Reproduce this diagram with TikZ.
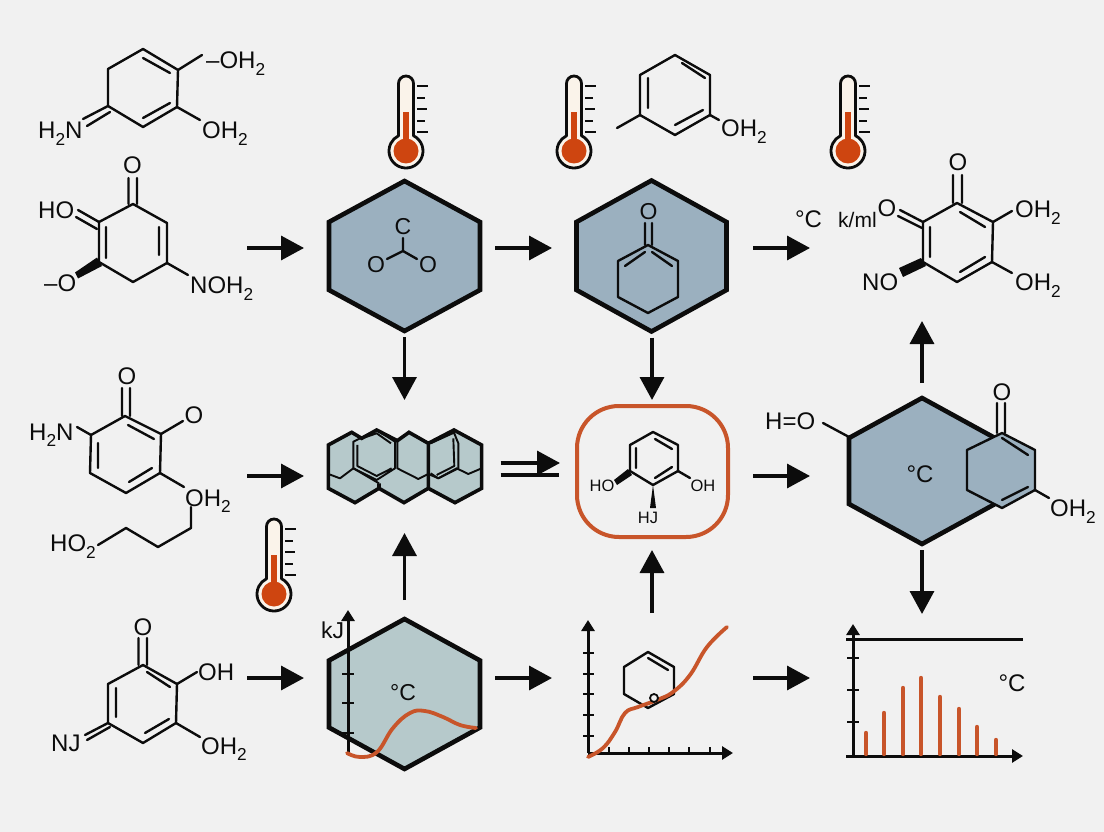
\documentclass[tikz,border=0pt]{standalone}
\usepackage{fontspec}
\usepackage{graphicx}
\setmainfont{Liberation Sans}
\usetikzlibrary{arrows.meta,calc}
\definecolor{paper}{HTML}{F1F1F1}
\definecolor{ink}{HTML}{0C0C0C}
\definecolor{hexblue}{HTML}{9BB0BF}
\definecolor{hexpale}{HTML}{B6C9CB}
\definecolor{rust}{HTML}{C8552A}
\definecolor{mercury}{HTML}{CE4510}
\definecolor{cream}{HTML}{FAF3EA}
\newcommand{\subtwo}[1]{\raisebox{-.28em}{\scalebox{.72}{#1}}}
\tikzset{
  x=1pt,y=-1pt,
  bond/.style={draw=ink,line width=2.4pt,line cap=round,line join=round},
  lbl/.style={inner sep=0pt,text=ink,anchor=base west,font=\fontsize{24}{24}\selectfont},
  lblc/.style={lbl,anchor=base},
  lbls/.style={lblc,font=\fontsize{16.5}{16.5}\selectfont},
  arr/.style={draw=ink,line width=3.4pt,-{Triangle[length=23pt,width=24pt]}},
  axis/.style={draw=ink,line width=3pt,-{Triangle[length=11pt,width=13pt]}},
  tick/.style={draw=ink,line width=2.6pt},
  hexline/.style={draw=ink,line width=4.6pt,line join=miter},
  ghost/.style={inner sep=0pt,outer sep=0pt,draw=none,fill=none},
  curve/.style={draw=rust,line width=3.8pt,line cap=round,line join=round},
  barline/.style={draw=rust,line width=4.4pt,line cap=round},
  thin cluster/.style={draw=ink,line width=1.9pt,line join=round},
  thick cluster/.style={draw=ink,line width=3.6pt,line join=miter},
}
% name, x, y, rx, ry, half side, fill
\newcommand{\hexnode}[7]{%
  \node[ghost,minimum width=#4*2pt,minimum height=#5*2pt] (#1) at (#2,#3) {};
  \draw[hexline,fill=#7] ($(#2,#3)+(0,-#5)$) -- ($(#2,#3)+(#4,-#6)$) -- ($(#2,#3)+(#4,#6)$) --
    ($(#2,#3)+(0,#5)$) -- ($(#2,#3)+(-#4,#6)$) -- ($(#2,#3)+(-#4,-#6)$) -- cycle;
}
\newcommand{\thermo}[3]{%
  \begin{scope}[shift={(#2,#3)}]
    \draw[draw=ink,line width=2.8pt,fill=cream,line join=round]
      (-7.5,-67.5) arc[start angle=180,end angle=360,radius=7.5] -- (7.5,-15.25)
      arc[start angle=-63.8,end angle=243.8,radius=17] -- cycle;
    \fill[mercury] (-3.2,-39) rectangle (3.2,-8);
    \fill[mercury] (0,0) circle[radius=12.5];
    \draw[tick] (11,-65) -- (22,-65) (11,-53) -- (19,-53) (11,-42) -- (21,-42) (11,-30) -- (19,-30) (11,-19) -- (22,-19);
    \node[ghost] (#1) at (0,-30) {};
  \end{scope}
}
\begin{document}
\begin{tikzpicture}
\useasboundingbox (0,0) rectangle (1104,832);
\fill[paper] (0,0) rectangle (1104,832);

% ---- named hexagons and boxes
\hexnode{hexA}{404.5}{256}{75.5}{75}{34}{hexblue}
\hexnode{hexB}{651.5}{256}{75}{75.5}{34}{hexblue}
\hexnode{hexC}{922}{471}{73}{73}{33}{hexblue}
\hexnode{hexD}{404.5}{694}{75.5}{75}{33.5}{hexpale}

% ---- thermometers
\thermo{thA}{406}{151}
\thermo{thB}{574}{151}
\thermo{thC}{848}{151}
\thermo{thD}{274}{594}

% ---- molecule 1
\draw[bond] (143,49) -- (178,70) -- (177,107) -- (143,127) -- (108,106) -- (108,69) -- cycle;
\draw[bond] (143,58) -- (170,73) (143,118) -- (170,103) (178,70) -- (202,55) (177,107) -- (200,120)
  (108,106) -- (83,119) (110,112) -- (87,126);
\node[lbl] (m1a) at (206,69) {–OH\subtwo{2}};
\node[lbl] (m1b) at (202,139) {OH\subtwo{2}};
\node[lbl] (m1c) at (38,139) {H\subtwo{2}N};

% ---- molecule 2
\draw[bond] (133,204) -- (167,223) -- (167,263) -- (133,282) -- (99,262) -- (99,222) -- cycle;
\draw[bond] (159,227) -- (159,255) (106,227) -- (106,258) (128.5,204) -- (128.5,178) (137,204) -- (137,178)
  (99,222) -- (78,210) (97,229) -- (76,217) (167,263) -- (188,275);
\fill[ink] (75,272.5) -- (78,278.5) -- (102,266) -- (97,257.5) -- cycle;
\node[lblc] (m2o) at (132.5,173.5) {O};
\node[lbl] (m2a) at (38,218.5) {HO};
\node[lbl] (m2b) at (44,291.5) {–O};
\node[lbl] (m2c) at (190,293.5) {NOH\subtwo{2}};

% ---- molecule 3
\draw[bond] (125,416) -- (161,434) -- (160,473) -- (126,493) -- (90,473) -- (91,435) -- cycle;
\draw[bond] (128,425) -- (154,439) (152,468) -- (129,482) (98,443) -- (98,468)
  (122,416) -- (122,388) (130,416) -- (130,388) (161,434) -- (183,421)
  (91,435) -- (77,427) (160,473) -- (184,487)
  (191,507) -- (191,528) -- (158,547) -- (126,528) -- (98,545);
\node[lblc] (m3o) at (127,384) {O};
\node[lblc] (m3p) at (194,423) {O};
\node[lbl] (m3a) at (29,440) {H\subtwo{2}N};
\node[lbl] (m3b) at (185,506) {OH\subtwo{2}};
\node[lbl] (m3c) at (50,551.5) {HO\subtwo{2}};

% ---- molecule 4
\draw[bond] (143,665) -- (177,684) -- (176,723) -- (143,743) -- (108,723) -- (108,684) -- cycle;
\draw[bond] (147,672) -- (170,687) (169,719) -- (145,733) (116,688) -- (116,717)
  (138.5,665) -- (138.5,638) (147,665) -- (147,638) (177,684) -- (197,672) (176,723) -- (200,737)
  (108,723) -- (85,735) (110,727) -- (87,740);
\node[lblc] (m4o) at (143,635.5) {O};
\node[lbl] (m4a) at (198,680.5) {OH};
\node[lbl] (m4b) at (201,754) {OH\subtwo{2}};
\node[lbl] (m4c) at (51,751.5) {NJ};

% ---- molecule 5
\draw[bond] (675,55) -- (710,75) -- (710,115) -- (675,135) -- (640,115) -- (640,75) -- cycle;
\draw[bond] (648,78) -- (648,108) (675,125) -- (703,110) (682,63) -- (705,78) (640,115) -- (617,128) (710,115) -- (719,120);
\node[lbl] (m5a) at (721,136.5) {OH\subtwo{2}};

% ---- molecule 6
\draw[bond] (957,203) -- (993,222) -- (992,262) -- (957,282) -- (923,262) -- (923,222) -- cycle;
\draw[bond] (960,212) -- (985,227) (985,257) -- (960,272) (930,227) -- (930,257)
  (953,203) -- (953,175) (962,203) -- (962,175)
  (923,222) -- (900,210) (922,228) -- (898,216)
  (993,222) -- (1012,211) (992,262) -- (1012,273);
\fill[ink] (899,268) -- (903,277) -- (926,266) -- (921,258) -- cycle;
\node[lblc] (m6o) at (958,170.5) {O};
\node[lblc] (m6p) at (887,216.5) {O};
\node[lbl] (m6a) at (862,290.5) {NO};
\node[lbl] (m6b) at (1015,217.5) {OH\subtwo{2}};
\node[lbl] (m6c) at (1015,290.5) {OH\subtwo{2}};
\node[lblc] (m6d) at (808.5,228) {°C};
\node[lbl,font=\fontsize{21}{21}\selectfont] (m6e) at (838,228) {k/ml};

% ---- contents of hexagon A
\draw[bond] (403,238) -- (403,251) -- (387,259) (403,251) -- (417,259);
\node[lblc,font=\fontsize{23}{23}\selectfont] (aC) at (403,235) {C};
\node[lblc,font=\fontsize{23}{23}\selectfont] (aO) at (376,272) {O};
\node[lblc,font=\fontsize{23}{23}\selectfont] (aP) at (428,272) {O};

% ---- contents of hexagon B
\draw[bond] (648,245) -- (678,261) -- (678,297) -- (648,313) -- (618,297) -- (618,261) -- cycle;
\draw[bond] (625,266) -- (645,252) (672,266) -- (652,252) (645,245) -- (645,223) (652,245) -- (652,223);
\node[lblc,font=\fontsize{23}{23}\selectfont] (bO) at (648.5,219) {O};

% ---- contents of hexagon C with the overlaid small ring
\draw[bond,fill=hexblue] (1002,433) -- (1035,450) -- (1035,490) -- (1002,508) -- (967,490) -- (967,450) -- cycle;
\draw[bond] (1002,438) -- (1028,455) (1028,487) -- (1002,500) (997,433) -- (997,403) (1005,433) -- (1005,403)
  (1035,490) -- (1049,498) (823,423) -- (849,437);
\node[lblc] (cO) at (1002,400.5) {O};
\node[lbl] (cH) at (765,429.5) {H=O};
\node[lblc] (cT) at (920,482) {°C};
\node[lbl] (cW) at (1050,516.5) {OH\subtwo{2}};

% ---- cluster of fused rings
\node[ghost,minimum width=154pt,minimum height=73pt] (cluster) at (404.5,466.5) {};
\begin{scope}[shift={(310,400)},xscale=.3333,yscale=.3333]
  \fill[hexpale] (55,135) -- (125,97) -- (155,115) -- (200,90) -- (262,122) -- (297,97) -- (355,130) -- (432,90) -- (515,135)
    -- (515,265) -- (435,308) -- (355,265) -- (282,308) -- (207,265) -- (135,308) -- (55,265) -- cycle;
  \draw[thin cluster] (55,222) -- (90,235) -- (130,205) -- (207,250) (262,122) -- (262,205) -- (325,237) -- (355,222)
    (355,222) -- (385,235) -- (440,205) -- (475,222) -- (515,205);
  \draw[thin cluster] (130,125) -- (200,90) -- (255,125) -- (255,205) -- (200,240) -- (130,205) -- cycle
    (142,135) -- (142,198) -- (200,228) -- (245,205) (165,112) -- (200,100) -- (243,130);
  \draw[thin cluster] (362,130) -- (432,98) -- (445,130) -- (445,205) -- (385,235) -- (362,220)
    (430,115) -- (433,198) -- (380,225);
  \draw[thick cluster] (55,135) -- (125,97) -- (155,115) -- (200,90) -- (262,122) -- (297,97) -- (355,130) -- (432,90) -- (515,135)
    -- (515,265) -- (435,308) -- (355,265) -- (282,308) -- (207,265) -- (135,308) -- (55,265) -- cycle
    (207,250) -- (207,265) (355,130) -- (355,265);
\end{scope}

% ---- product box
\node[ghost,draw=rust,line width=4pt,rounded corners=42pt,minimum width=151pt,minimum height=131pt] (prod) at (652.5,471.5) {};
\draw[bond] (653,432) -- (678,445) -- (678,471) -- (653,485) -- (630,471) -- (630,445) -- cycle;
\draw[bond] (655,439) -- (672,449) (672,467) -- (655,478) (636,448) -- (636,468) (678,471) -- (690,478);
\fill[ink] (614,480) -- (617,485) -- (632,475) -- (628,469) -- cycle;
\fill[ink] (653,485) -- (650,508) -- (656,508) -- cycle;
\node[lbls] (pA) at (602,491.5) {HO};
\node[lbls] (pB) at (703,491.5) {OH};
\node[lbls] (pC) at (648,523) {HJ};

% ---- chart in hexagon D
\draw[axis] (348,753) -- (348,610);
\draw[tick] (342,674) -- (354,674) (342,703) -- (354,703) (342,733) -- (354,733);
\draw[curve] plot[smooth,tension=.7] coordinates {(347,753) (360,757) (377,752) (393,728) (410,713) (425,711) (443,717) (460,725) (476,728)};
\node[lbl,font=\fontsize{23}{23}\selectfont] (dk) at (321,638) {kJ};
\node[lblc,font=\fontsize{23}{23}\selectfont] (dT) at (403,700) {°C};

% ---- middle chart
\draw[axis] (588,753) -- (588,620);
\draw[axis] (588,753) -- (733,753);
\draw[tick] (583,653) -- (594,653) (583,674) -- (594,674) (583,694) -- (594,694) (583,715) -- (594,715) (583,736) -- (594,736);
\draw[tick] (609,747) -- (609,753) (629,747) -- (629,753) (649,747) -- (649,753) (669,747) -- (669,753) (689,747) -- (689,753) (710,747) -- (710,753);
\draw[bond] (648,652) -- (674,667) -- (674,694) -- (648,708) -- (624,694) -- (624,667) -- cycle;
\draw[bond] (648,658) -- (668,670);
\draw[curve] plot[smooth,tension=.7] coordinates {(588,757) (603,748) (615,732) (625,713) (638,707) (657,700) (673,692) (690,675) (707,647) (727,627)};
\draw[draw=ink,line width=1.8pt,fill=paper] (654,698) circle[radius=4];

% ---- bar chart
\draw[axis] (853,756) -- (853,624);
\draw[axis] (846,756) -- (1023,756);
\draw[draw=ink,line width=3pt] (846,639) -- (1023,639);
\draw[tick] (847,658) -- (859,658) (847,690) -- (859,690) (847,722) -- (859,722);
\draw[barline] (866,754) -- (866,733) (884,754) -- (884,713) (903,754) -- (903,688) (921,754) -- (921,678)
  (940,754) -- (940,697) (959,754) -- (959,709) (977,754) -- (977,727) (996,754) -- (996,740);
\node[lblc] (hT) at (1012,691) {°C};

% ---- free ends
\coordinate (in1) at (247,248);
\coordinate (in2) at (247,476);
\coordinate (in3) at (247,678);
\coordinate (outT) at (810,248);
\coordinate (chartB) at (552,678);
\coordinate (chartBout) at (753,678);
\coordinate (chartBup) at (652,613);
\coordinate (chartC) at (810,678);
\coordinate (chartCin) at (922,614);
\coordinate (molF) at (922,321);

% ---- connectors
\draw[arr] (in1) -- ([shift={(-25,-8)}]hexA.west);
\draw[arr] ([shift={(15,-8)}]hexA.east) -- ([shift={(-24.5,-8)}]hexB.west);
\draw[arr] ([shift={(26.5,-8)}]hexB.east) -- (outT);
\draw[arr] (in2) -- ([shift={(-23.5,9.5)}]cluster.west);
\draw[arr] ([shift={(19,-3.5)}]cluster.east) -- ([shift={(-17,-8.5)}]prod.west);
\draw[draw=ink,line width=3.4pt] ([shift={(19,8.5)}]cluster.east) -- ([shift={(-18,3.5)}]prod.west);
\draw[arr] ([shift={(25,4.5)}]prod.east) -- ([shift={(-39,5)}]hexC.west);
\draw[arr] (in3) -- ([shift={(-25,-16)}]hexD.west);
\draw[arr] ([shift={(15,-16)}]hexD.east) -- (chartB);
\draw[arr] (chartBout) -- (chartC);
\draw[arr] ([shift={(0,6)}]hexA.south) -- ([shift={(0,-30)}]cluster.north);
\draw[arr] ([shift={(0,-19)}]hexD.north) -- ([shift={(0,30)}]cluster.south);
\draw[arr] ([shift={(0.5,6)}]hexB.south) -- ([shift={(-.5,-6)}]prod.north);
\draw[arr] (chartBup) -- ([shift={(-.5,13)}]prod.south);
\draw[arr] ([shift={(0,-15)}]hexC.north) -- (molF);
\draw[arr] ([shift={(0,6)}]hexC.south) -- (chartCin);
\end{tikzpicture}
\end{document}
